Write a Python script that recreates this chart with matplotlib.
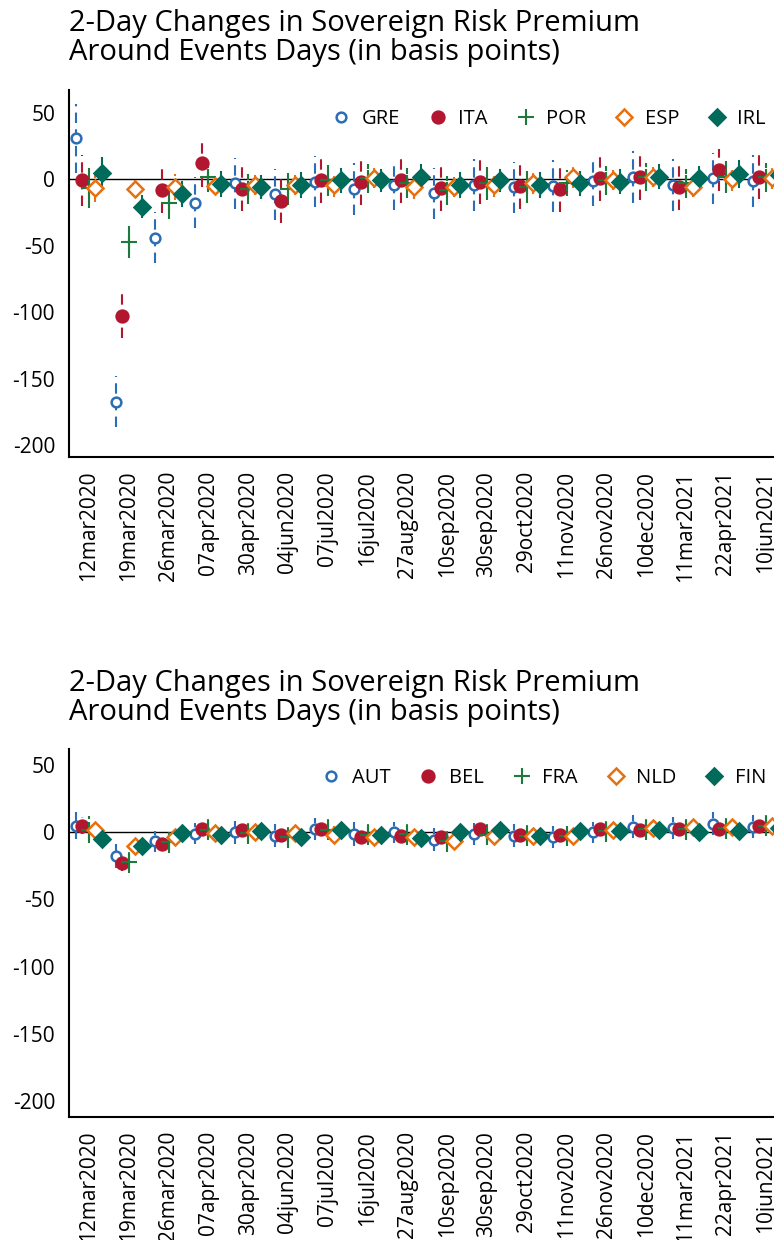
import matplotlib
matplotlib.use('Agg')
import matplotlib.pyplot as plt
import numpy as np

plt.rcParams['font.family'] = ['Open Sans', 'DejaVu Sans']

dates = ['12mar2020', '19mar2020', '26mar2020', '07apr2020', '30apr2020', '04jun2020',
         '07jul2020', '16jul2020', '27aug2020', '10sep2020', '30sep2020', '29oct2020',
         '11nov2020', '26nov2020', '10dec2020', '11mar2021', '22apr2021', '10jun2021']

# Panel 1: periphery
gre = [30.6, -167.4, -44, -17.8, -3.3, -11.5, -2, -7.3, -4.5, -10.8, -4.5, -6.3, -5.3, -1.3, 1.3, -4.5, 0.5, -1.3]
ita = [-1, -102.8, -8.3, 11.8, -7.3, -16.3, -1, -2.5, -1, -7, -2, -5.3, -7.8, 0.5, 1.3, -6.3, 6.8, 1.8]
por = [-7, -47.4, -18, 1.3, -7.5, -7.5, -1, 0.5, -3, -8.3, -3.3, -5.8, -3, -1, 1.3, -3.3, 1.3, 1.3]
esp = [-7, -7.5, -6, -5, -4.5, -4.5, -4.5, 0.5, -6, -5.8, -4.5, -3.3, 1.3, -1, 1.3, -5.8, -0.3, 0.5]
irl = [4.7, -20.8, -11.3, -4, -5.8, -4.5, -1, -1, 1.3, -4.5, -0.8, -4.5, -3.3, -2, 1.8, 0.5, 3.8, 3]
gre_ci = [26, 19, 19, 19, 19.5, 19, 19, 19.5, 19, 19, 19.5, 19, 19.5, 19, 19.5, 19.5, 19, 19.5]
ita_ci = [19, 17, 17.5, 17.5, 17, 17, 17, 17, 17, 17, 17, 17, 17, 17, 17, 17, 16, 17]
por_ci = [15, 12, 12, 11, 11.5, 12, 11.5, 11, 11.5, 11, 12.5, 12, 10, 11, 10.5, 11, 12, 11]
esp_ci = [10, 7, 9.5, 7, 7.5, 7.5, 9, 7.5, 9, 7.5, 9, 8, 8, 7.5, 7.5, 7.5, 8.5, 8]
irl_ci = [11, 8, 9, 9, 8.5, 9, 8.5, 8, 9, 9, 8, 9, 8.5, 8.5, 8.5, 8.5, 9.5, 9]

# Panel 2: core
aut = [5, -17.8, -6.7, -1, 0, -2.5, 2.5, -1, 0, -5.4, -1.2, -2.5, -3.5, 0, 4, 3.2, 6.5, 4]
bel = [5, -23.2, -8.7, 2.5, 2, -1.7, 2.5, -3.5, -2.5, -3.5, 2.5, -1.7, -1.7, 2.5, 2, 2.5, 2.5, 5]
fra = [2, -22.3, -7.4, 2, -0.5, -3.5, 2, -1.7, -1, -6.7, -1.7, -2.5, -3, 0.8, 2.5, 2.5, 3.2, 5]
nld = [1.5, -10, -3.7, -0.5, 0, -0.5, -1.7, -3.5, -3.5, -6.7, -2.5, -2.5, -3, 2, 3.2, 4, 4, 5]
fin = [-5, -9.9, -0.5, -2.2, 0.8, -3.5, 1.5, -1.7, -4.2, 0.3, 1.5, -2.5, 0.8, 0.8, 1.5, 0, 0.8, 3.2]
aut_ci = [10, 9, 8, 8, 8.5, 8.5, 8, 9, 8, 8.5, 8, 8.5, 8, 8, 8.5, 8, 8.3, 8.5]
bel_ci = [6, 6, 5, 5, 5, 5, 5, 5, 5, 5, 5, 5, 5, 5, 5, 5, 5, 5]
fra_ci = [10, 8, 8, 8, 8, 8, 8, 8, 8.5, 8, 8, 8, 7.5, 8, 8, 8, 8, 8]
nld_ci = [6, 5, 5, 5, 5, 5, 6, 5, 5, 5, 5, 5, 5, 5, 5, 5, 5, 5]
fin_ci = [3, 3, 3, 3, 3, 3, 3, 3, 3, 3, 3, 3, 3, 3, 3, 3, 3, 3]

blue = '#2c6db5'
red = '#b3172f'
green = '#1d7a3c'
orange = '#e8700f'
teal = '#006a5b'

# marker, face, edge, size, line dashes, offset
styles = [
    ('o', 'white', blue, 7, (5, 3), -0.33),
    ('o', red, red, 8.5, (5, 3), -0.165),
    ('+', green, green, 12, (10, 1.5), 0.0),
    ('D', 'white', orange, 8, (10, 1.5), 0.165),
    ('D', teal, teal, 8.5, None, 0.33),
]

title = '2-Day Changes in Sovereign Risk Premium\nAround Events Days (in basis points)'

fig = plt.figure(figsize=(7.74, 12.4), dpi=100)


def panel(rect, names, vals, cis, ylim, leg_y):
    ax = fig.add_axes(rect)
    x = np.arange(1, len(dates) + 1)
    handles = []
    for name, v, ci, st in zip(names, vals, cis, styles):
        mk, fc, ec, ms, dash, off = st
        v = np.array(v)
        ci = np.array(ci)
        xs = x + off
        for xi, vi, ei in zip(xs, v, ci):
            ln, = ax.plot([xi, xi], [vi - ei, vi + ei], color=ec, lw=1.5, zorder=2)
            if dash is not None:
                ln.set_dashes(dash)
        h, = ax.plot(xs, v, linestyle='none', marker=mk, markersize=ms,
                     markerfacecolor=fc, markeredgecolor=ec,
                     markeredgewidth=1.8 if mk != '+' else 1.5, zorder=3, label=name)
        handles.append(h)
    ax.axhline(0, color='black', lw=1, zorder=1)
    ax.set_xlim(0.5, 18.21)
    ax.set_ylim(*ylim)
    ax.set_yticks([50, 0, -50, -100, -150, -200])
    ax.set_yticklabels(['50', '0', '-50', '-100', '-150', '-200'])
    ax.set_xticks(x)
    ax.set_xticklabels(dates, rotation=90)
    ax.tick_params(axis='both', length=0, labelsize=15, pad=10)
    ax.spines['top'].set_visible(False)
    ax.spines['right'].set_visible(False)
    ax.spines['left'].set_linewidth(1.5)
    ax.spines['bottom'].set_linewidth(1.5)
    ax.legend(handles=handles, ncol=5, frameon=False, loc='center right',
              bbox_to_anchor=(1.0, leg_y), bbox_transform=fig.transFigure,
              fontsize=14.5, handlelength=0.8, handletextpad=0.6, columnspacing=1.5,
              markerscale=1.0, borderaxespad=0)
    return ax


panel([69 / 774, 1 - 457 / 1240, 705 / 774, 367 / 1240],
      ['GRE', 'ITA', 'POR', 'ESP', 'IRL'],
      [gre, ita, por, esp, irl], [gre_ci, ita_ci, por_ci, esp_ci, irl_ci],
      (-209, 67), 1 - 119 / 1240)
fig.text(69 / 774, 1 - 9 / 1240, title, ha='left', va='top', fontsize=21, linespacing=1.0)

panel([69 / 774, 1 - 1117 / 1240, 705 / 774, 368 / 1240],
      ['AUT', 'BEL', 'FRA', 'NLD', 'FIN'],
      [aut, bel, fra, nld, fin], [aut_ci, bel_ci, fra_ci, nld_ci, fin_ci],
      (-212, 62), 1 - 778 / 1240)
fig.text(69 / 774, 1 - 669 / 1240, title, ha='left', va='top', fontsize=21, linespacing=1.0)

fig.savefig('out.png', dpi=100)
